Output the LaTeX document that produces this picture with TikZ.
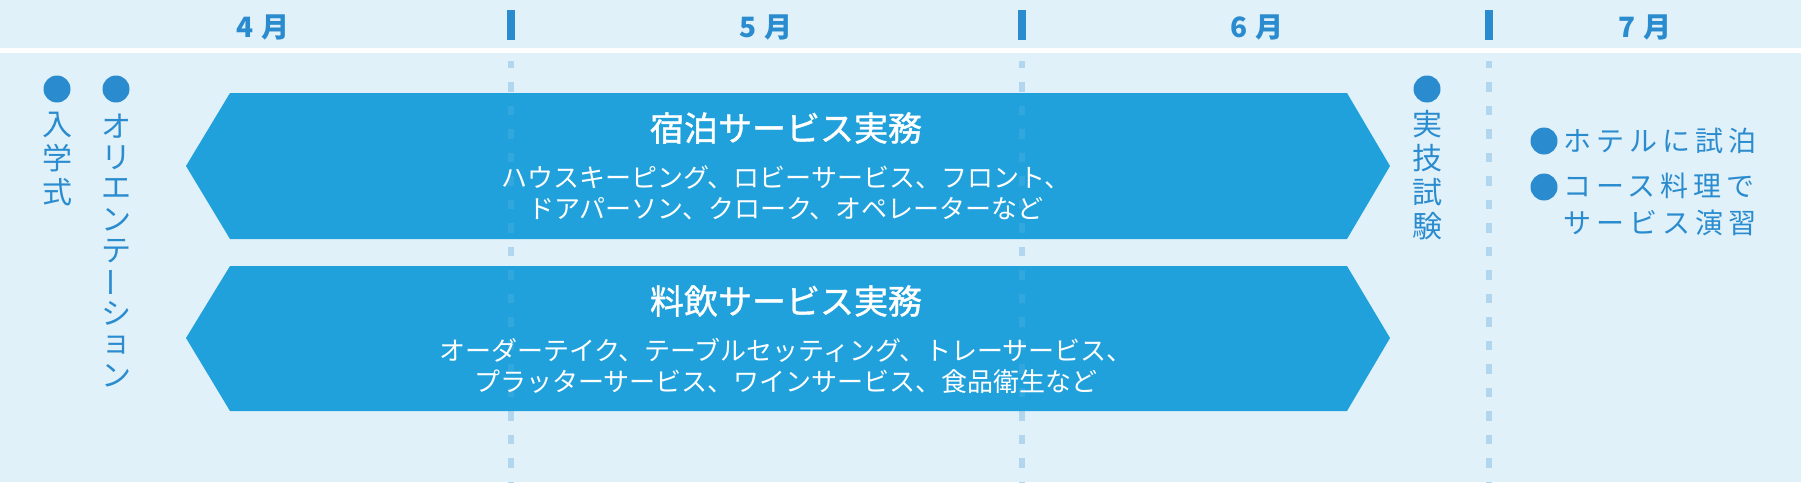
\documentclass[tikz,border=0pt]{standalone}
\usepackage{graphicx}
\usepackage{fontspec}
\setmainfont{Noto Sans CJK JP}
\newfontfamily\jpls{Noto Sans CJK JP}[LetterSpace=18]
\newfontfamily\jpmed{Noto Sans CJK JP}[FakeBold=1.2]
\definecolor{bgc}{HTML}{E1F1FA}
\definecolor{txtblue}{HTML}{2A8CCF}
\definecolor{arrowc}{HTML}{21A1DB}
\definecolor{dashc}{HTML}{B3D6EF}
\tikzset{
  month/.style={font=\fontsize{28}{28}\selectfont\bfseries, text=txtblue, inner sep=0pt},
  monthbar/.style={draw=txtblue, line width=8pt},
  dashline/.style={draw=dashc, line width=6.5pt, dash pattern=on 9.5pt off 14pt, dash phase=2.5pt},
  band/.style={fill=arrowc},
  btitle/.style={font=\fontsize{34}{34}\selectfont\jpmed, text=white, inner sep=0pt},
  bsub/.style={font=\fontsize{26}{31}\selectfont, text=white, align=center, inner sep=0pt},
  vch/.style={font=\fontsize{30}{30}\selectfont, text=txtblue, inner sep=0pt},
  dotc/.style={fill=txtblue},
  rtxt/.style={font=\fontsize{28}{37}\selectfont\jpls, text=txtblue, inner sep=0pt, anchor=west, align=left},
}
\begin{document}
\begin{tikzpicture}[x=1pt,y=-1pt]
\useasboundingbox (0,0) rectangle (1801,482);
\fill[bgc] (0,0) rectangle (1801,482);
\fill[white] (0,48) rectangle (1801,53);
% month separators
\foreach \xx in {511,1022,1489} {
  \draw[monthbar] (\xx,10) -- (\xx,40);
  \draw[dashline] (\xx,61) -- (\xx,482);
}
% month labels
\node[month] (m4) at (263,27) {4\hspace{8pt}月};
\node[month] (m5) at (766,27) {5\hspace{8pt}月};
\node[month] (m6) at (1257,27) {6\hspace{8pt}月};
\node[month] (m7) at (1645,27) {7\hspace{8pt}月};
% bands
\fill[band] (186,166) -- (230,93) -- (1347,93) -- (1390,166) -- (1347,239) -- (230,239) -- cycle;
\fill[band] (186,338) -- (230,266) -- (1347,266) -- (1390,338) -- (1347,411) -- (230,411) -- cycle;
\foreach \xx in {511,1022} {
  \draw[dashline, draw opacity=0.12] (\xx,61) -- (\xx,482);
}
\node[btitle] (t1) at (786,128) {宿泊サービス実務};
\node[bsub] (s1) at (786,193) {ハウスキーピング、ロビーサービス、フロント、\\ドアパーソン、クローク、オペレーターなど};
\node[btitle] (t2) at (786,301) {料飲サービス実務};
\node[bsub] (s2) at (786,366) {オーダーテイク、テーブルセッティング、トレーサービス、\\プラッターサービス、ワインサービス、食品衛生など};
% left vertical items
\fill[dotc] (57,89) circle[radius=13.5pt];
\foreach \c [count=\i from 0] in {入,学,式} {
  \node[vch] (nyu-\i) at (57,125+33.5*\i) {\c};
}
\fill[dotc] (116,89) circle[radius=13.5pt];
\foreach \c [count=\i from 0] in {オ,リ,エ,ン,テ,{\rotatebox[origin=c]{90}{ー}},シ,ョ,ン} {
  \node[vch] (ori-\i) at (116,126+31.25*\i) {\c};
}
\fill[dotc] (1427,89) circle[radius=13.5pt];
\foreach \c [count=\i from 0] in {実,技,試,験} {
  \node[vch] (jit-\i) at (1427,124.5+34*\i) {\c};
}
% right items
\fill[dotc] (1544,141) circle[radius=13.5pt];
\node[rtxt] (r1) at (1563,141) {ホテルに試泊};
\fill[dotc] (1544,187) circle[radius=13.5pt];
\node[rtxt, anchor=north west] (r2) at (1563,173) {コース料理で\\サービス演習};
\end{tikzpicture}
\end{document}
